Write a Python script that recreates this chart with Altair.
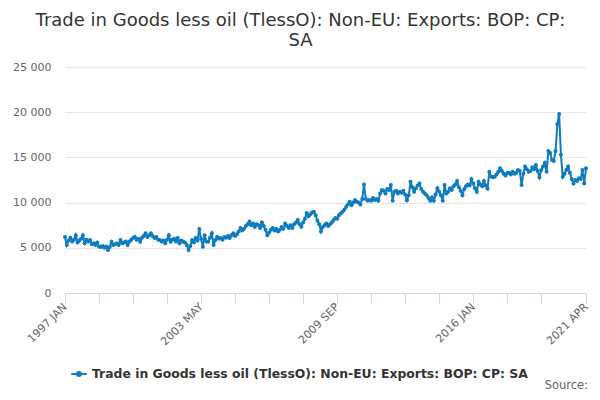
import altair as alt
import pandas as pd

TITLE = ["Trade in Goods less oil (TlessO): Non-EU: Exports: BOP: CP:", "SA"]
SERIES = "Trade in Goods less oil (TlessO): Non-EU: Exports: BOP: CP: SA"
BLUE = "#0f7bc0"

MONTHS = [p.strftime("%Y %b").upper() for p in pd.period_range("1997-01", "2021-04", freq="M")]

# monthly values, £ million
V1997 = [6200, 5300, 5800, 6100, 5700, 5900, 6400, 5600, 5800, 6000, 6400, 5500]
V1998 = [5900, 5700, 5860, 5400, 5500, 5300, 5600, 5150, 5100, 5200, 5000, 5150]
V1999 = [4750, 5100, 5680, 5300, 5400, 5500, 5300, 5860, 5500, 5600, 5700, 5300]
V2000 = [5700, 5900, 6080, 6230, 5900, 6000, 5680, 6100, 6300, 6600, 6200, 6400]
V2001 = [6600, 6300, 6080, 6200, 5900, 5860, 5700, 5800, 5500, 5900, 6400, 5680]
V2002 = [5900, 6000, 5700, 6080, 5500, 5800, 5680, 5600, 5300, 4750, 5200, 5860]
V2003 = [5600, 6080, 5800, 7080, 6000, 5120, 6400, 5700, 5680, 6100, 6600, 5300]
V2004 = [5860, 6230, 6000, 6080, 5900, 6200, 6100, 6300, 6080, 6400, 6600, 6300]
V2005 = [6500, 6800, 7200, 6900, 7100, 7400, 7600, 7900, 7500, 7700, 7300, 7600]
V2006 = [7500, 7200, 7800, 7400, 7000, 6400, 6700, 7000, 7200, 6900, 7100, 6800]
V2007 = [7000, 7300, 7100, 7700, 7400, 7200, 7500, 7200, 7600, 7800, 8080, 7600]
V2008 = [7330, 7800, 8200, 8850, 8500, 8700, 8900, 9000, 8600, 8000, 7600, 6800]
V2009 = [7300, 7500, 7700, 7400, 7600, 7800, 8080, 8300, 8200, 8600, 8800, 9000]
V2010 = [9200, 9500, 9800, 10100, 9700, 10000, 10300, 10100, 10000, 9800, 10400, 12000]
V2011 = [10400, 10200, 10300, 10200, 10500, 10300, 10400, 10200, 11000, 11400, 11300, 11000]
V2012 = [11500, 11400, 11950, 10200, 11200, 11300, 11000, 11200, 11100, 11300, 10900, 10250]
V2013 = [10800, 12300, 11700, 11200, 11600, 11900, 12100, 11500, 11200, 11000, 10800, 10500]
V2014 = [10200, 10600, 10200, 10900, 11600, 11200, 10800, 10200, 11950, 11000, 11200, 11600]
V2015 = [11400, 11800, 12000, 12400, 11700, 11300, 10800, 11500, 11800, 12000, 11900, 12600]
V2016 = [12100, 11600, 11200, 12300, 12000, 11800, 12400, 11900, 11550, 13400, 12900, 12800]
V2017 = [12850, 13100, 13400, 13800, 13500, 13200, 13000, 13270, 13300, 13100, 13400, 13200]
V2018 = [13300, 13600, 13500, 11950, 13200, 14000, 13700, 13400, 13500, 13900, 13700, 14150]
V2019 = [13500, 12800, 13600, 14000, 14400, 13400, 15700, 15500, 14700, 14600, 15700, 18700]
V2020 = [19800, 15300, 12850, 13200, 13600, 14000, 13300, 12600, 12100, 12500, 12400, 12700]
V2021 = [12600, 13600, 12100, 13800]

YEARS = [V1997, V1998, V1999, V2000, V2001, V2002, V2003, V2004, V2005, V2006,
         V2007, V2008, V2009, V2010, V2011, V2012, V2013, V2014, V2015, V2016,
         V2017, V2018, V2019, V2020, V2021]

TICK_INDEX = list(range(0, 267, 19)) + [291]
LABEL_INDEX = [0, 76, 152, 228, 291]
Y_TICKS = [0, 5000, 10000, 15000, 20000, 25000]

values = [v for year in YEARS for v in year]
df = pd.DataFrame({"i": range(len(values)), "month": MONTHS, "value": values, "series": SERIES})

x_label_expr = "".join(f"datum.value == {i} ? '{MONTHS[i]}' : " for i in LABEL_INDEX) + "''"

line = (
    alt.Chart(df)
    .mark_line(strokeWidth=2, point=alt.OverlayMarkDef(filled=True, size=16))
    .encode(
        x=alt.X(
            "i:Q",
            scale=alt.Scale(domain=[0, 291], nice=False, zero=False),
            axis=alt.Axis(
                values=TICK_INDEX,
                labelExpr=x_label_expr,
                title=None,
                grid=False,
                domainColor="#ccd6eb",
                tickColor="#ccd6eb",
                tickSize=10,
                labelAngle=315,
                labelAlign="right",
                labelBaseline="middle",
                labelFontSize=11,
                labelColor="#666666",
                labelPadding=2,
                labelOverlap=False,
                labelFlush=False,
            ),
        ),
        y=alt.Y(
            "value:Q",
            scale=alt.Scale(domain=[0, 25000], nice=False),
            axis=alt.Axis(
                values=Y_TICKS,
                labelExpr="replace(format(datum.value, ','), ',', ' ')",
                title=None,
                domain=False,
                ticks=False,
                gridColor="#e6e6e6",
                labelPadding=14,
                labelFontSize=11,
                labelColor="#666666",
            ),
        ),
        color=alt.Color(
            "series:N",
            scale=alt.Scale(range=[BLUE]),
            legend=alt.Legend(
                title=None,
                orient="none",
                legendX=5,
                legendY=298,
                labelFontSize=12.4,
                labelFontWeight="bold",
                labelColor="#333333",
                labelLimit=600,
                symbolType="M-1,0L1,0M-0.25,0A0.25,0.25,0,1,1,0.25,0A0.25,0.25,0,1,1,-0.25,0",
                symbolSize=240,
                symbolStrokeWidth=2,
                symbolFillColor=BLUE,
                symbolStrokeColor=BLUE,
            ),
        ),
        tooltip=[alt.Tooltip("month:N"), alt.Tooltip("value:Q")],
    )
)

source = (
    alt.Chart(pd.DataFrame({"t": ["Source:"]}))
    .mark_text(align="right", baseline="middle", fontSize=11.5, color="#666666")
    .encode(x=alt.value(523), y=alt.value(319), text="t:N")
)

chart = (
    alt.layer(line, source)
    .properties(
        width=521,
        height=226,
        autosize=alt.AutoSizeParams(type="none"),
        padding={"left": 57, "top": 59, "right": 6, "bottom": 99},
        title=alt.TitleParams(
            TITLE,
            anchor="middle",
            frame="group",
            dx=-25,
            fontSize=18,
            fontWeight="normal",
            color="#333333",
            offset=11,
        ),
    )
    .configure(font="DejaVu Sans")
    .configure_view(stroke=None)
)

chart.save("out.html", embed_options={"renderer": "svg", "actions": False})
